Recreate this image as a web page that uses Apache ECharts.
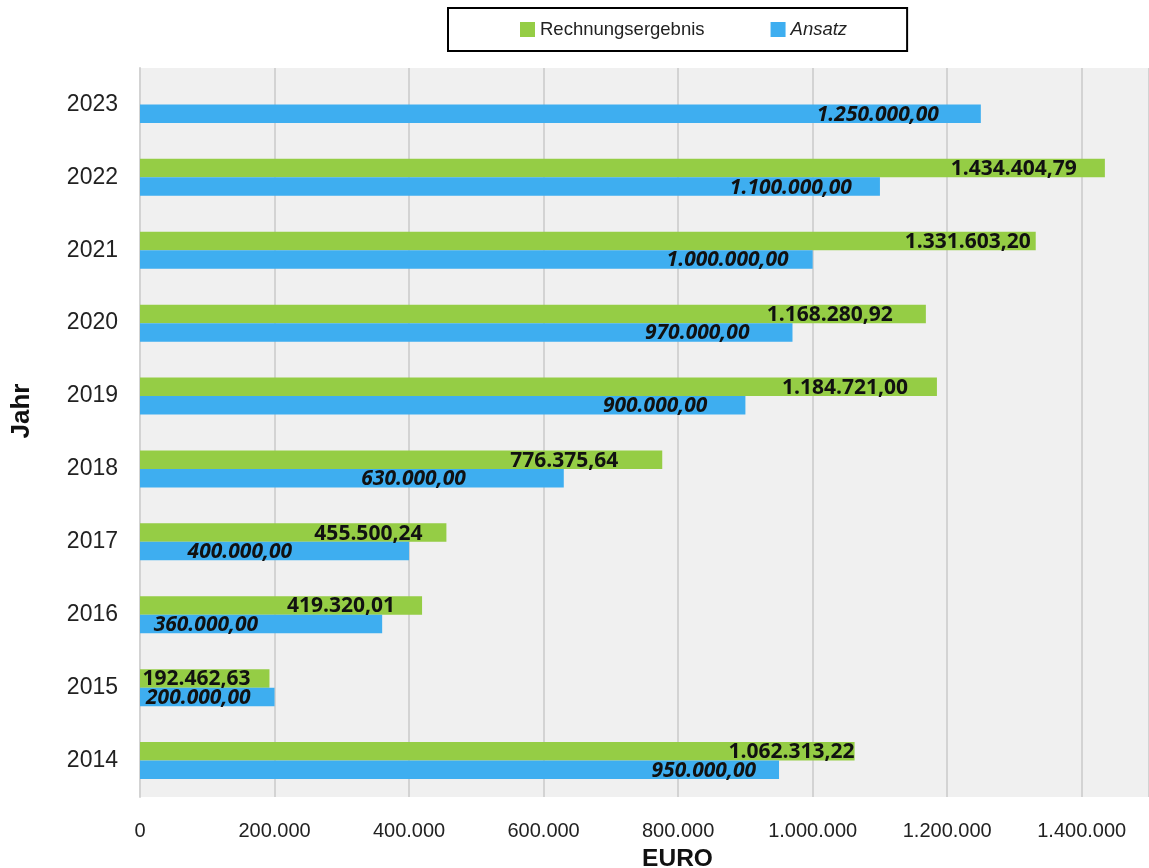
<!DOCTYPE html>
<html>
<head>
<meta charset="utf-8">
<script src="https://cdn.jsdelivr.net/npm/echarts@6/dist/echarts.min.js"></script>
<style>
  html, body { margin: 0; padding: 0; background: #ffffff; }
  #chart { width: 1149px; height: 868px; }
</style>
</head>
<body>
<div id="chart"></div>
<script>
// Jahre (Kategorien, von unten nach oben)
const years = ['2014', '2015', '2016', '2017', '2018', '2019', '2020', '2021', '2022', '2023'];
// Rechnungsergebnis in Euro (2023 noch offen)
const rechnungsergebnis = [1062313.22, 192462.63, 419320.01, 455500.24, 776375.64, 1184721.00, 1168280.92, 1331603.20, 1434404.79, null];
// Haushaltsansatz in Euro
const ansatz = [950000, 200000, 360000, 400000, 630000, 900000, 970000, 1000000, 1100000, 1250000];
// Achsenbeschriftungen
const xTicks = [0, 200000, 400000, 600000, 800000, 1000000, 1200000, 1400000];

// Verschiebung der Wertbeschriftungen (px, relativ zum Balkenende)
const shiftErgebnis = [0, -19, -27, -24, -44, -29, -33, -5, -28, 0];
const shiftAnsatz = [-23, -24, -124, -117, -98, -38, -43, -24, -28, -42];

const GREEN = '#95cd45';
const BLUE = '#3eaef0';

// Zahlen im deutschen Format: Tausenderpunkt, Dezimalkomma
function fmtDe(v, decimals) {
  const neg = v < 0;
  const s = Math.abs(v).toFixed(decimals);
  const parts = s.split('.');
  const intPart = parts[0].replace(/\B(?=(\d{3})+(?!\d))/g, '.');
  return (neg ? '-' : '') + intPart + (decimals > 0 ? ',' + parts[1] : '');
}

function buildData(values, shifts) {
  return values.map((v, i) => ({
    value: v,
    label: { offset: [shifts[i], 1] }
  }));
}

const labelBase = {
  show: true,
  position: 'insideRight',
  distance: 0,
  fontFamily: '"Open Sans", "DejaVu Sans", sans-serif',
  fontWeight: 'bold',
  fontSize: 21,
  color: '#111111',
  formatter: p => (p.value == null ? '' : fmtDe(p.value, 2))
};

const chart = echarts.init(document.getElementById('chart'), null, { renderer: 'canvas' });

chart.setOption({
  backgroundColor: '#ffffff',
  animation: false,
  textStyle: { fontFamily: '"Liberation Sans", Arial, sans-serif' },
  legend: {
    top: 8,
    left: 448,
    orient: 'horizontal',
    borderColor: '#000000',
    borderWidth: 2,
    padding: [12, 60, 12, 72],
    itemGap: 66,
    itemWidth: 15,
    itemHeight: 15,
    icon: 'rect',
    textStyle: { fontSize: 18.5, color: '#222222', fontFamily: '"Liberation Sans", Arial, sans-serif' },
    data: [
      { name: 'Rechnungsergebnis' },
      { name: 'Ansatz', textStyle: { fontStyle: 'italic' } }
    ]
  },
  grid: {
    left: 140,
    right: 0,
    top: 68,
    bottom: 71,
    outerBoundsMode: 'none',
    containLabel: false,
    show: true,
    backgroundColor: '#f0f0f0',
    borderWidth: 0
  },
  xAxis: {
    type: 'value',
    min: 0,
    max: 1500000,
    interval: 200000,
    name: 'EURO',
    nameLocation: 'middle',
    nameGap: 50,
    nameTextStyle: { fontSize: 24.5, fontWeight: 'bold', color: '#111111', padding: [0, 0, 0, 66] },
    axisLine: { show: false },
    axisTick: { show: false },
    axisLabel: {
      fontSize: 20,
      color: '#222222',
      margin: 24,
      showMaxLabel: false,
      formatter: v => (xTicks.indexOf(v) >= 0 ? fmtDe(v, 0) : '')
    },
    splitLine: { show: true, lineStyle: { color: '#d3d3d3', width: 2 } }
  },
  yAxis: {
    type: 'category',
    data: years,
    name: 'Jahr',
    nameLocation: 'middle',
    nameGap: 105,
    nameRotate: 90,
    nameTextStyle: { fontSize: 26, fontWeight: 'bold', color: '#111111', padding: [0, 0, 0, 43] },
    axisLine: { show: true, lineStyle: { color: '#d3d3d3', width: 2 } },
    axisTick: { show: false },
    axisLabel: { fontSize: 23, color: '#222222', margin: 22 },
    splitLine: { show: false }
  },
  series: [
    {
      name: 'Rechnungsergebnis',
      type: 'bar',
      data: buildData(rechnungsergebnis, shiftErgebnis),
      itemStyle: { color: GREEN },
      barWidth: 18.5,
      barGap: '0%',
      label: Object.assign({}, labelBase)
    },
    {
      name: 'Ansatz',
      type: 'bar',
      data: buildData(ansatz, shiftAnsatz),
      itemStyle: { color: BLUE },
      barWidth: 18.5,
      barGap: '0%',
      label: Object.assign({}, labelBase, { fontStyle: 'italic' })
    }
  ]
});
</script>
</body>
</html>
